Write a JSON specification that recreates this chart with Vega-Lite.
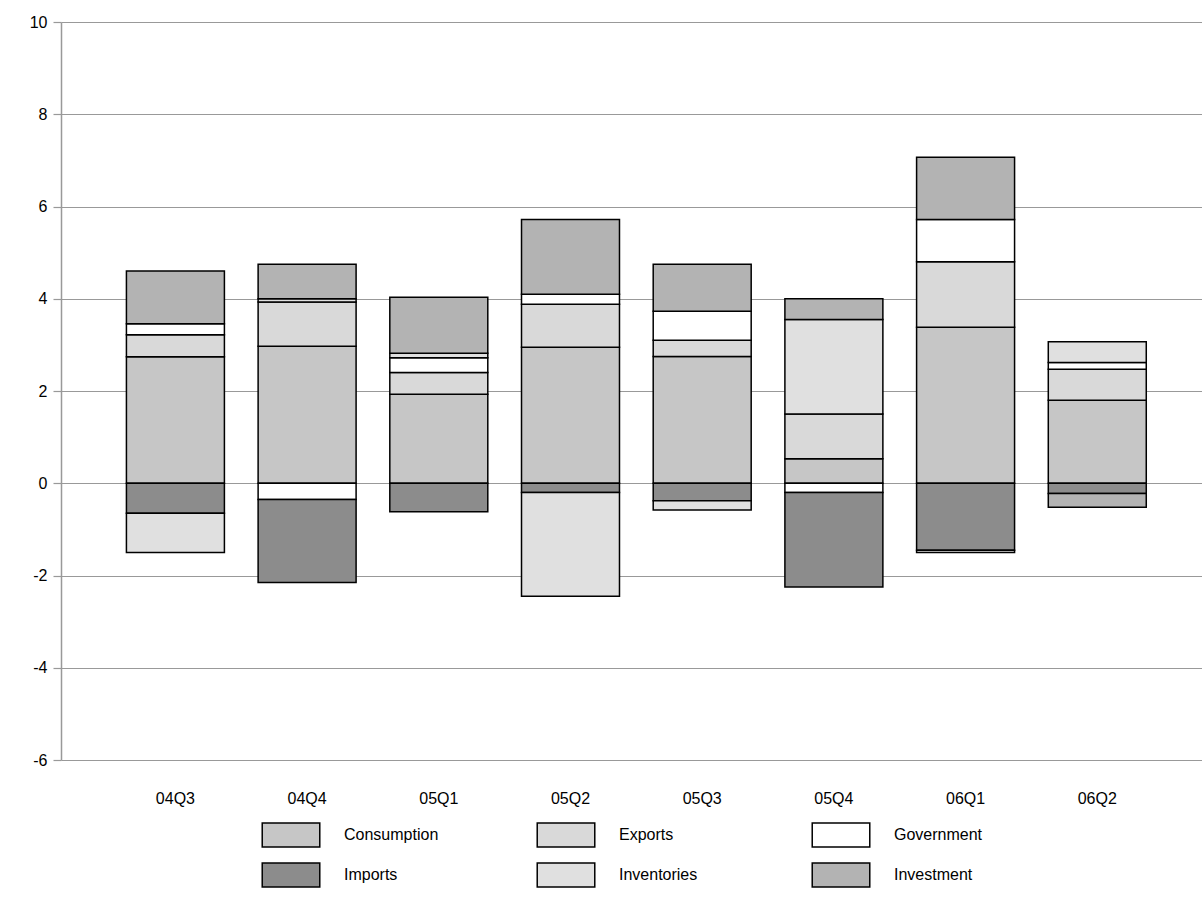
{
  "$schema": "https://vega.github.io/schema/vega-lite/v6.json",
  "width": 1141,
  "height": 738,
  "autosize": "none",
  "padding": {"left": 61, "top": 22, "right": 0, "bottom": 149},
  "background": "white",
  "config": {
    "view": {"stroke": null},
    "font": "Liberation Sans",
    "axis": {"labelFont": "Liberation Sans", "labelFontSize": 16, "labelColor": "black"}
  },
  "data": {
    "values": [
      {"q": "04Q3", "c": "Consumption", "v": 2.74},
      {"q": "04Q3", "c": "Exports", "v": 0.48},
      {"q": "04Q3", "c": "Government", "v": 0.24},
      {"q": "04Q3", "c": "Investment", "v": 1.14},
      {"q": "04Q3", "c": "Imports", "v": -0.65},
      {"q": "04Q3", "c": "Inventories", "v": -0.85},
      {"q": "04Q4", "c": "Consumption", "v": 2.97},
      {"q": "04Q4", "c": "Exports", "v": 0.96},
      {"q": "04Q4", "c": "Inventories", "v": 0.07},
      {"q": "04Q4", "c": "Investment", "v": 0.75},
      {"q": "04Q4", "c": "Government", "v": -0.35},
      {"q": "04Q4", "c": "Imports", "v": -1.8},
      {"q": "05Q1", "c": "Consumption", "v": 1.93},
      {"q": "05Q1", "c": "Exports", "v": 0.47},
      {"q": "05Q1", "c": "Government", "v": 0.32},
      {"q": "05Q1", "c": "Inventories", "v": 0.1},
      {"q": "05Q1", "c": "Investment", "v": 1.21},
      {"q": "05Q1", "c": "Imports", "v": -0.62},
      {"q": "05Q2", "c": "Consumption", "v": 2.95},
      {"q": "05Q2", "c": "Exports", "v": 0.93},
      {"q": "05Q2", "c": "Government", "v": 0.22},
      {"q": "05Q2", "c": "Investment", "v": 1.62},
      {"q": "05Q2", "c": "Imports", "v": -0.2},
      {"q": "05Q2", "c": "Inventories", "v": -2.25},
      {"q": "05Q3", "c": "Consumption", "v": 2.75},
      {"q": "05Q3", "c": "Exports", "v": 0.35},
      {"q": "05Q3", "c": "Government", "v": 0.63},
      {"q": "05Q3", "c": "Investment", "v": 1.02},
      {"q": "05Q3", "c": "Imports", "v": -0.38},
      {"q": "05Q3", "c": "Inventories", "v": -0.2},
      {"q": "05Q4", "c": "Consumption", "v": 0.53},
      {"q": "05Q4", "c": "Exports", "v": 0.97},
      {"q": "05Q4", "c": "Inventories", "v": 2.05},
      {"q": "05Q4", "c": "Investment", "v": 0.45},
      {"q": "05Q4", "c": "Government", "v": -0.2},
      {"q": "05Q4", "c": "Imports", "v": -2.05},
      {"q": "06Q1", "c": "Consumption", "v": 3.38},
      {"q": "06Q1", "c": "Exports", "v": 1.42},
      {"q": "06Q1", "c": "Government", "v": 0.92},
      {"q": "06Q1", "c": "Investment", "v": 1.35},
      {"q": "06Q1", "c": "Imports", "v": -1.45},
      {"q": "06Q1", "c": "Inventories", "v": -0.05},
      {"q": "06Q2", "c": "Consumption", "v": 1.8},
      {"q": "06Q2", "c": "Exports", "v": 0.67},
      {"q": "06Q2", "c": "Government", "v": 0.15},
      {"q": "06Q2", "c": "Inventories", "v": 0.45},
      {"q": "06Q2", "c": "Imports", "v": -0.22},
      {"q": "06Q2", "c": "Investment", "v": -0.3}
    ]
  },
  "mark": {"type": "bar", "stroke": "black", "strokeWidth": 1.5},
  "encoding": {
    "x": {
      "field": "q", "type": "nominal", "title": null,
      "scale": {"paddingInner": 0.256, "paddingOuter": 0.46, "align": 0.54},
      "axis": {"domain": false, "ticks": false, "labelAngle": 0, "labelPadding": 30, "grid": false}
    },
    "y": {
      "field": "v", "type": "quantitative", "aggregate": "sum", "title": null,
      "scale": {"domain": [-6, 10], "nice": false},
      "axis": {"values": [-6, -4, -2, 0, 2, 4, 6, 8, 10], "grid": true, "gridColor": "#999999", "gridWidth": 1.2,
               "labelExpr": "replace(datum.label, '−', '-')",
               "domainColor": "#999999", "domainWidth": 1.5, "tickColor": "#999999", "tickSize": 8, "tickWidth": 1.2, "labelPadding": 6}
    },
    "order": {"field": "c", "type": "nominal", "sort": "ascending"},
    "color": {
      "field": "c", "type": "nominal",
      "scale": {
        "domain": ["Consumption", "Exports", "Government", "Imports", "Inventories", "Investment"],
        "range": ["#c6c6c6", "#d9d9d9", "#ffffff", "#8c8c8c", "#e0e0e0", "#b3b3b3"]
      },
      "legend": {
        "title": null, "orient": "none", "legendX": 205, "legendY": 788, "columns": 3, "direction": "horizontal",
        "symbolType": "M-1.2,-0.5H1.2V0.5H-1.2Z", "symbolSize": 2300, "symbolStrokeColor": "black", "symbolStrokeWidth": 1.5,
        "symbolOffset": 0, "labelFontSize": 16, "labelFont": "Liberation Sans", "labelColor": "black", "labelOffset": 28,
        "columnPadding": 95, "rowPadding": -10, "gridAlign": "all", "labelLimit": 200
      }
    }
  }
}
